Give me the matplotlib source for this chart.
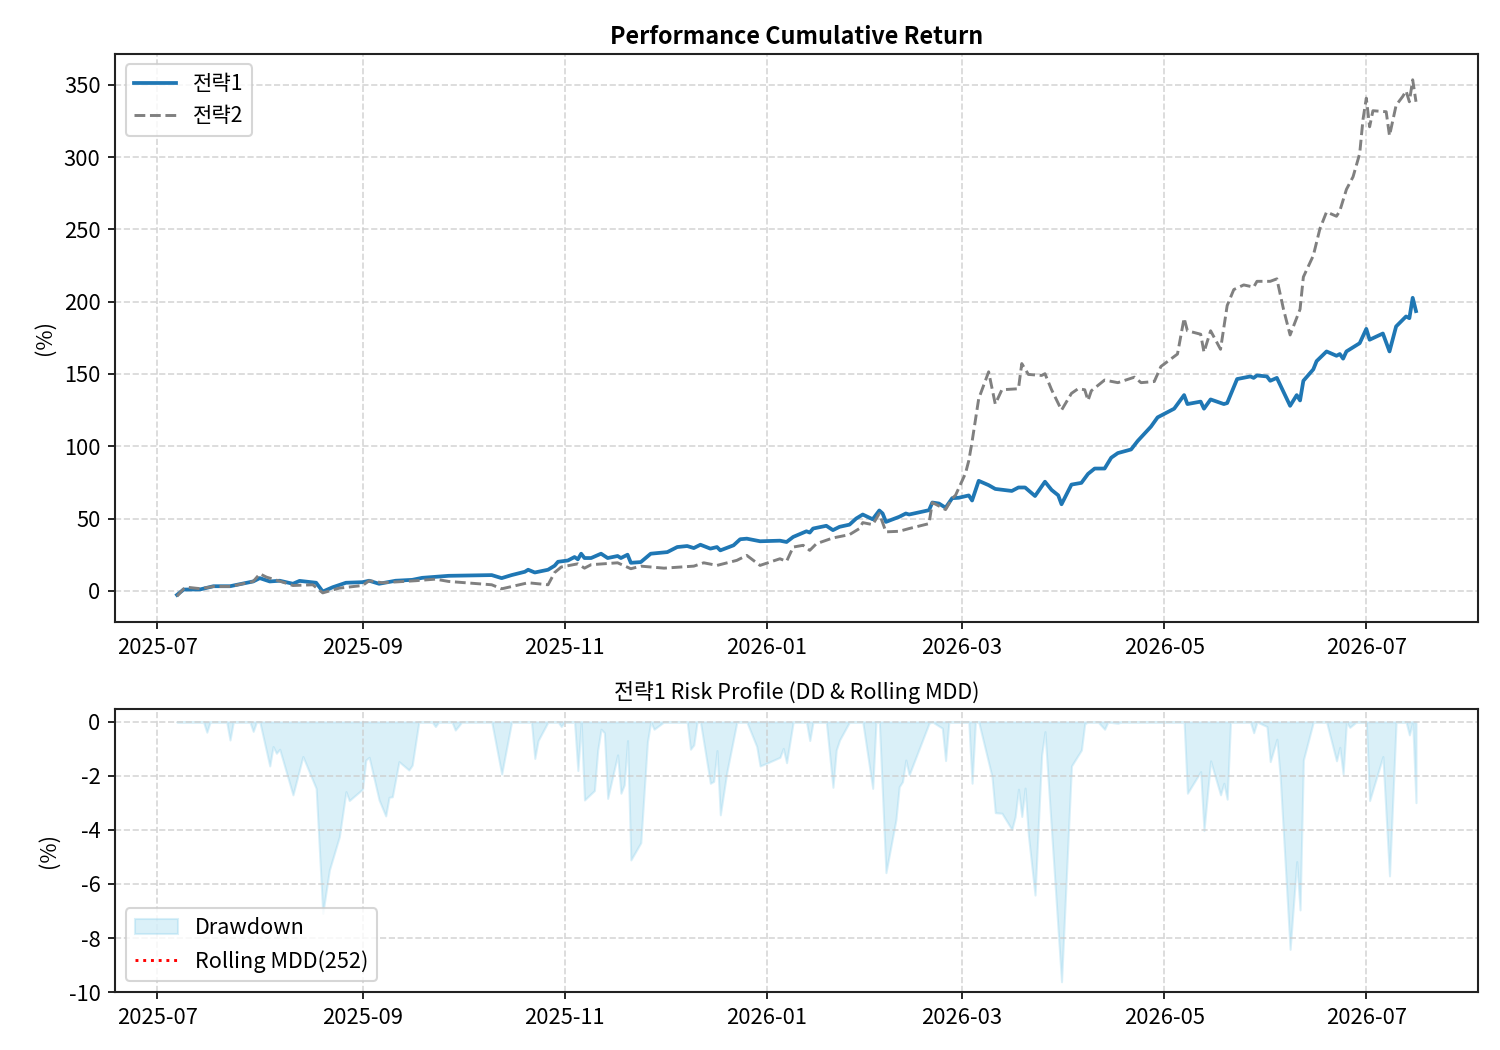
import matplotlib
matplotlib.use("Agg")
import matplotlib.pyplot as plt
import matplotlib.dates as mdates
import numpy as np
import pandas as pd

plt.rcParams['font.family'] = ['Noto Sans CJK KR', 'DejaVu Sans']
plt.rcParams['axes.unicode_minus'] = False

BASE = pd.Timestamp('2025-07-01')

# Strategy 1 cumulative return (%) : day offsets from 2025-07-01 and values
s1_days = [6, 8, 13, 17, 22, 29, 31, 34, 37, 41, 43, 48, 50, 53, 57, 62, 64, 67, 72, 77, 80, 88,
           101, 104, 107, 111, 112, 114, 118, 120, 121, 124, 126, 127, 128, 129, 131, 134, 136,
           139, 140, 142, 143, 146, 149, 154, 157, 160, 162, 164, 167, 169, 170, 174, 176, 178,
           182, 188, 190, 192, 196, 197, 198, 202, 204, 206, 209, 211, 213, 216, 218, 219, 220,
           224, 226, 227, 233, 234, 236, 238, 240, 242, 245, 246, 248, 251, 253, 258, 260, 262,
           265, 268, 270, 272, 273, 276, 279, 281, 283, 286, 288, 290, 294, 296, 300, 302, 307,
           310, 311, 315, 316, 318, 322, 323, 326, 330, 331, 332, 335, 336, 338, 342, 344, 345,
           346, 349, 350, 353, 356, 357, 358, 359, 363, 365, 366, 370, 372, 374, 377, 378, 379, 380]
s1_vals = [-2.8, 0.9, 1.0, 3.2, 3.2, 6.5, 8.8, 6.5, 7.0, 4.9, 6.9, 5.6, -0.5, 2.5, 5.6, 6.0, 7.0, 4.9,
           7.0, 7.6, 9.0, 10.4, 10.9, 8.8, 10.9, 13.2, 14.6, 12.7, 14.6, 17.4, 20.1, 21.0, 23.4, 21.8,
           25.7, 22.7, 22.7, 25.7, 22.7, 24.1, 22.7, 25.0, 19.4, 19.9, 25.7, 26.8, 30.3, 31.0, 29.6,
           31.9, 29.2, 30.3, 28.0, 31.5, 35.7, 36.1, 34.3, 34.7, 33.8, 37.3, 41.2, 40.3, 43.1, 45.0,
           42.0, 44.3, 45.8, 50.0, 52.8, 49.5, 55.6, 53.5, 47.7, 51.2, 53.5, 52.8, 55.8, 61.1, 60.4,
           57.5, 64.1, 64.4, 66.0, 62.5, 76.1, 73.1, 70.5, 69.1, 71.5, 71.5, 65.6, 75.5, 69.8, 66.1,
           59.9, 73.5, 74.7, 80.9, 84.6, 84.6, 92.1, 95.3, 97.8, 103.7, 113.6, 120.0, 126.0, 135.4,
           129.2, 130.9, 126.0, 132.4, 129.2, 129.9, 146.5, 148.3, 147.3, 149.0, 148.3, 145.3, 147.3,
           128.0, 135.4, 131.7, 145.3, 153.2, 158.9, 165.6, 162.6, 163.8, 160.6, 165.6, 171.3, 181.2,
           173.7, 178.0, 165.6, 182.9, 189.8, 188.6, 202.7, 193.5]

# Strategy 2 cumulative return (%)
s2_days = [6, 8, 9, 13, 17, 22, 29, 31, 33, 38, 41, 47, 50, 55, 62, 64, 68, 78, 84, 88, 101, 104,
           112, 118, 120, 122, 127, 129, 131, 139, 143, 146, 153, 162, 165, 169, 175, 178, 182, 188,
           190, 192, 195, 197, 199, 204, 209, 212, 213, 216, 218, 220, 224, 227, 233, 234, 236, 238,
           240, 241, 244, 245, 246, 248, 251, 253, 255, 260, 261, 263, 267, 268, 270, 273, 276, 278,
           280, 281, 282, 286, 290, 295, 297, 301, 303, 308, 310, 311, 315, 316, 318, 321, 323, 325,
           328, 331, 332, 336, 338, 340, 342, 345, 346, 349, 351, 353, 356, 357, 359, 361, 363, 364,
           365, 366, 367, 371, 372, 374, 376, 377, 378, 379, 380]
s2_vals = [-3.7, 1.4, 2.5, 1.5, 3.0, 3.0, 6.5, 11.8, 9.5, 6.0, 3.7, 4.2, -1.4, 1.9, 3.7, 7.0, 5.6,
           7.0, 8.1, 6.5, 4.2, 1.4, 5.6, 4.2, 12.7, 16.5, 18.7, 15.7, 18.1, 19.4, 15.3, 17.1, 15.7,
           17.1, 19.4, 17.6, 21.1, 24.5, 17.6, 22.2, 20.4, 30.3, 31.5, 28.0, 32.6, 36.6, 38.9, 43.1,
           47.2, 45.8, 53.5, 40.8, 41.2, 43.1, 46.5, 61.1, 58.7, 56.2, 64.0, 66.1, 81.2, 90.0, 103.2,
           132.9, 151.5, 129.2, 139.1, 139.8, 157.2, 149.7, 149.0, 150.2, 139.1, 125.0, 136.6, 139.8,
           139.1, 131.7, 138.4, 145.8, 144.0, 147.8, 144.0, 144.8, 155.2, 163.8, 188.6, 179.9, 177.5,
           165.1, 179.9, 167.1, 197.3, 208.4, 211.6, 210.1, 214.1, 214.1, 215.8, 194.8, 177.0, 194.8,
           217.1, 231.9, 250.5, 262.1, 259.1, 262.8, 277.7, 286.4, 302.4, 326.0, 340.8, 321.0, 332.1,
           331.4, 314.8, 335.9, 342.0, 345.8, 338.3, 353.5, 338.3]

# Strategy 1 drawdown (%)
dd_days = [6, 14, 15, 16, 21, 22, 23, 28, 29, 30, 31, 34, 35, 36, 37, 41, 44, 48, 50, 52, 55, 57, 58,
           62, 63, 64, 67, 69, 70, 71, 73, 76, 77, 79, 83, 84, 85, 89, 90, 92, 101, 104, 107, 113,
           114, 115, 118, 121, 122, 123, 126, 127, 128, 129, 132, 133, 134, 135, 136, 139, 140, 141,
           142, 143, 146, 148, 149, 150, 153, 160, 161, 162, 163, 164, 167, 168, 169, 170, 172, 175,
           178, 181, 182, 184, 188, 189, 190, 192, 196, 197, 198, 202, 204, 205, 206, 209, 213, 216,
           217, 218, 220, 223, 224, 225, 226, 227, 233, 234, 237, 238, 239, 245, 246, 247, 248, 252,
           253, 255, 258, 259, 260, 261, 262, 263, 265, 267, 268, 273, 276, 279, 280, 281, 284, 286,
           287, 290, 291, 310, 311, 315, 316, 318, 321, 322, 323, 324, 330, 331, 332, 335, 336, 338,
           339, 342, 344, 345, 346, 349, 353, 356, 357, 358, 359, 360, 362, 365, 366, 370, 372, 374,
           377, 378, 379, 380]
dd_vals = [0, 0, -0.38, 0, 0, -0.67, 0, 0, -0.35, 0, 0, -1.63, -0.91, -1.16, -1.01, -2.70, -1.28,
           -2.46, -7.09, -5.48, -4.25, -2.58, -2.91, -2.49, -1.41, -1.31, -2.89, -3.48, -2.79, -2.77,
           -1.47, -1.78, -1.60, 0, 0, -0.17, 0, 0, -0.30, 0, 0, -1.93, 0, 0, -1.35, -0.69, 0, 0, -0.17,
           0, 0, -1.80, 0, -2.89, -2.54, -1.04, -0.27, -0.40, -2.83, -1.22, -2.64, -2.33, -0.69, -5.11,
           -4.47, -0.74, 0, -0.27, 0, 0, -1.01, -0.85, 0, 0, -2.27, -2.20, -1.06, -3.44, -1.84, 0, 0,
           -0.91, -1.63, -1.53, -1.31, -0.98, -1.51, 0, 0, -0.69, 0, 0, -2.42, -1.04, -0.67, 0, 0,
           -2.46, 0, 0, -5.58, -3.63, -2.40, -2.21, -1.41, -1.96, -0.05, 0, -0.23, -1.43, 0, 0, -2.27,
           0, 0, -2.02, -3.36, -3.38, -3.98, -3.51, -2.49, -3.50, -2.45, -4.20, -6.41, -1.22, -0.36,
           -9.62, -1.63, -1.04, -0.07, 0, 0, -0.27, 0, -0.05, 0, 0, -2.64, -1.84, -4.02, -1.44, -2.70,
           -2.27, -2.86, 0, 0, -0.40, 0, -0.17, -1.47, -0.64, -2.02, -8.42, -5.17, -6.96, -1.41, 0, 0,
           -1.44, -0.94, -1.93, 0, -0.20, 0, 0, -2.91, -1.28, -5.70, 0, 0, -0.48, 0, -2.99]

MDD_WINDOW = 252

s1 = pd.Series(s1_vals, index=BASE + pd.to_timedelta(s1_days, unit='D'))
s2 = pd.Series(s2_vals, index=BASE + pd.to_timedelta(s2_days, unit='D'))
dd = pd.Series(dd_vals, index=BASE + pd.to_timedelta(dd_days, unit='D'))
rolling_mdd = dd.rolling(MDD_WINDOW, min_periods=MDD_WINDOW).min()

fig = plt.figure(figsize=(10, 7), dpi=150)
ax1 = fig.add_axes([0.0767, 0.4076, 0.9086, 0.5410])
ax2 = fig.add_axes([0.0767, 0.0552, 0.9086, 0.2696])

ax1.plot(s1.index, s1.values, color='#1f77b4', lw=1.8, label='전략1')
ax1.plot(s2.index, s2.values, color='gray', lw=1.4, ls='--', label='전략2')
ax1.set_title('Performance Cumulative Return', fontsize=11.2, fontweight='bold', pad=5)
ax1.set_ylabel('(%)', fontsize=10.5)
ax1.legend(loc='upper left', fontsize=10.1)

ax2.fill_between(dd.index, dd.values, 0, color='skyblue', alpha=0.3, label='Drawdown')
ax2.plot(rolling_mdd.index, rolling_mdd.values, color='red', ls=':', lw=1.4,
         label=f'Rolling MDD({MDD_WINDOW})')
ax2.set_title('전략1 Risk Profile (DD & Rolling MDD)', fontsize=10.4, pad=5)
ax2.set_ylabel('(%)', fontsize=10.5)
ax2.set_ylim(-10, 0.48)
ax2.legend(loc='lower left', fontsize=10.4)

xmin = s1.index.min()
xmax = s1.index.max()
span = xmax - xmin
for ax in (ax1, ax2):
    ax.set_xlim(xmin - span * 0.05, xmax + span * 0.05)
    ax.xaxis.set_major_locator(mdates.MonthLocator(bymonth=[1, 3, 5, 7, 9, 11]))
    ax.xaxis.set_major_formatter(mdates.DateFormatter('%Y-%m'))
    ax.grid(True, ls='--', color='#cccccc', alpha=0.8, lw=0.8)
    ax.tick_params(labelsize=10.5)
    for sp in ax.spines.values():
        sp.set_color('#222222')
        sp.set_linewidth(1.0)

fig.savefig('out.png', dpi=150)
